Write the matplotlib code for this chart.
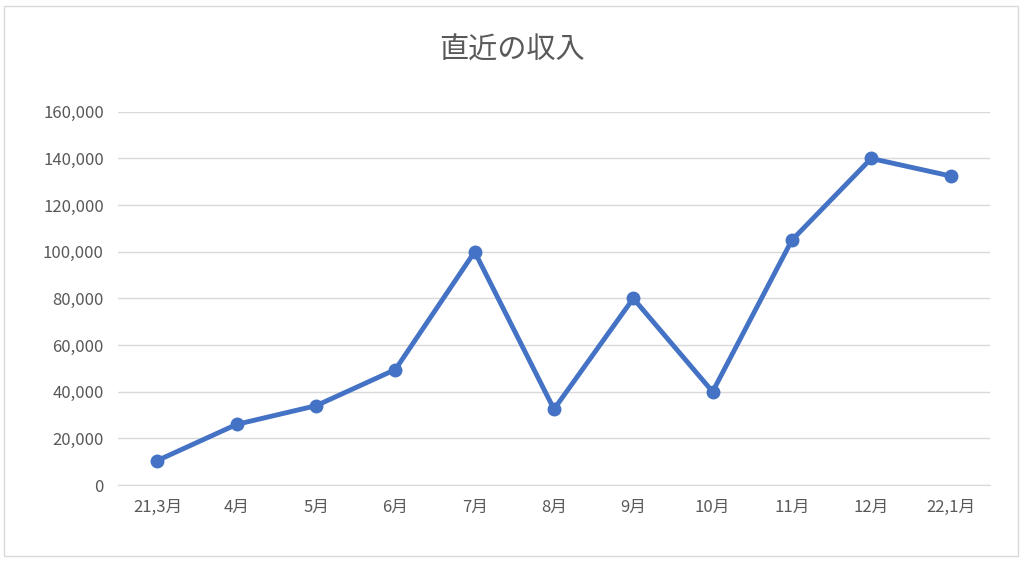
import matplotlib
matplotlib.use("Agg")
import matplotlib.pyplot as plt
from matplotlib.patches import Rectangle

plt.rcParams['font.family'] = ['Noto Sans CJK JP', 'DejaVu Sans']

categories = ["21,3月", "4月", "5月", "6月", "7月", "8月", "9月", "10月", "11月", "12月", "22,1月"]
income = [10500, 26000, 34000, 49500, 100000, 32500, 80000, 40000, 105000, 140000, 132500]
yticks = [0, 20000, 40000, 60000, 80000, 100000, 120000, 140000, 160000]

fig = plt.figure(figsize=(10.24, 5.62), dpi=100)
fig.patches.append(Rectangle((0.004, 0.01), 0.99, 0.98, transform=fig.transFigure,
                             fill=False, edgecolor='#d9d9d9', linewidth=1))
ax = fig.add_axes([0.115, 0.137, 0.852, 0.664])
x = list(range(len(categories)))
ax.plot(x, income, color='#4472C4', linewidth=3.5, marker='o', markersize=9, zorder=3)
ax.set_xlim(-0.5, len(categories) - 0.5)
ax.set_ylim(0, 160000)
ax.set_yticks(yticks)
ax.set_yticklabels([f"{v:,}" for v in yticks])
ax.set_xticks(x)
ax.set_xticklabels(categories)
ax.grid(axis='y', color='#d9d9d9', linewidth=1)
ax.set_axisbelow(True)
for s in ['top', 'right', 'left']:
    ax.spines[s].set_visible(False)
ax.spines['bottom'].set_color('#d9d9d9')
ax.tick_params(length=0, labelsize=12, colors='#595959', pad=10)
fig.text(0.5, 0.91, "直近の収入", ha='center', va='center', fontsize=21, color='#595959')
fig.savefig("out.png", dpi=100)
